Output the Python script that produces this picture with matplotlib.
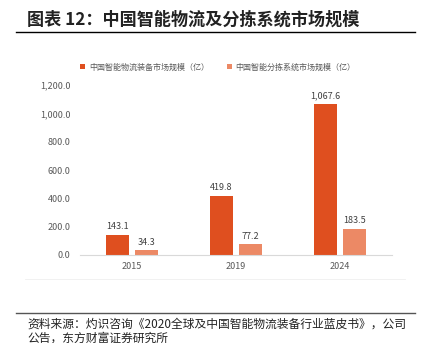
import matplotlib.pyplot as plt
import numpy as np
from matplotlib.lines import Line2D

plt.rcParams['font.family'] = ['Noto Sans CJK SC', 'DejaVu Sans']

years = ['2015', '2019', '2024']
equip = [143.1, 419.8, 1067.6]
sorting = [34.3, 77.2, 183.5]
series_names = ['中国智能物流装备市场规模（亿）', '中国智能分拣系统市场规模（亿）']
yticks = [0, 200, 400, 600, 800, 1000, 1200]

c1 = '#DF4F1F'
c2 = '#EC8965'

fig = plt.figure(figsize=(4.29, 3.43), dpi=100)
ax = fig.add_axes([80/429, 1-255/343, 312/429, 170/343])

x = np.arange(len(years))
w = 0.22
off = 0.142
b1 = ax.bar(x - off, equip, w, color=c1, label=series_names[0])
b2 = ax.bar(x + off, sorting, w, color=c2, label=series_names[1])

for bars, vals in [(b1, equip), (b2, sorting)]:
    for r, v in zip(bars, vals):
        ax.text(r.get_x() + r.get_width()/2, v + 25, f'{v:,.1f}',
                ha='center', va='bottom', fontsize=6.5, color='#404040')

ax.set_xlim(-0.5, 2.5)
ax.set_ylim(0, 1200)
ax.set_yticks(yticks)
ax.set_yticklabels([f'{t:,.1f}' for t in yticks])
ax.set_xticks(x)
ax.set_xticklabels(years)
ax.tick_params(length=0, labelsize=6.5, colors='#595959')
ax.tick_params(axis='y', pad=7)
ax.tick_params(axis='x', pad=5)
for s in ['top', 'right', 'left']:
    ax.spines[s].set_visible(False)
ax.spines['bottom'].set_color('#D9D9D9')

fig.legend(handles=[b1, b2], loc='center', bbox_to_anchor=(218/429, 1-67/343), ncol=2,
           frameon=False, fontsize=5.8, labelcolor='#595959', handlelength=0.6,
           handleheight=0.6, columnspacing=2.2, handletextpad=0.5)

fig.text(27/429, 1-20/343, '图表 12：中国智能物流及分拣系统市场规模', fontsize=12.3,
         fontweight='bold', va='center', ha='left', color='#222222')
fig.add_artist(Line2D([16/429, 415/429], [1-32/343, 1-32/343], color='black', lw=1))
fig.add_artist(Line2D([25/429, 405/429], [1-279/343, 1-279/343], color='#EFEFEF', lw=0.6))
fig.add_artist(Line2D([16/429, 415/429], [1-313/343, 1-313/343], color='#555555', lw=1))
fig.text(27/429, 1-324/343, '资料来源：灼识咨询《2020全球及中国智能物流装备行业蓝皮书》，公司',
         fontsize=8.5, va='center', ha='left', color='#222222')
fig.text(27/429, 1-338/343, '公告，东方财富证券研究所',
         fontsize=8.5, va='center', ha='left', color='#222222')

fig.savefig('out.png', dpi=100)
